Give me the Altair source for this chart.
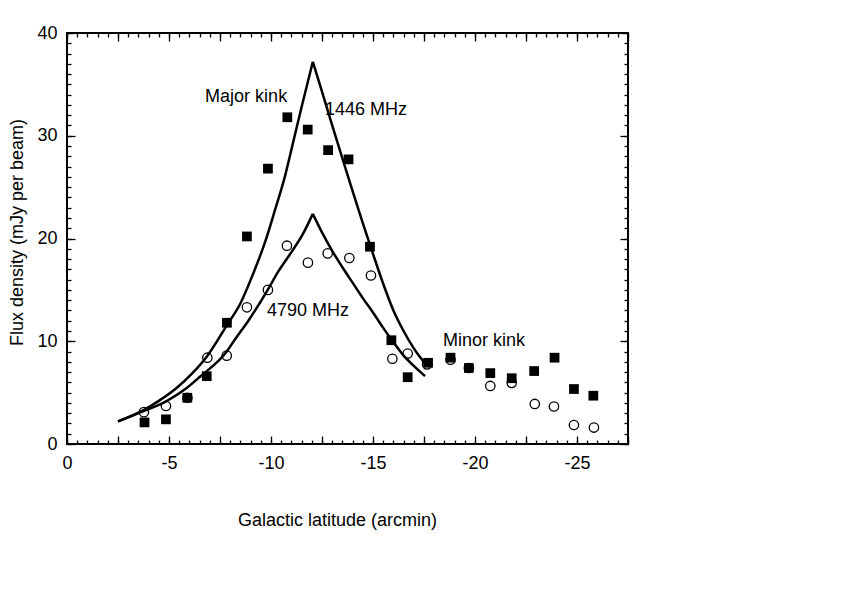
import altair as alt
import pandas as pd

# ---- data ----
sq_x = [-3.8, -4.85, -5.9, -6.85, -7.84, -8.82, -9.85, -10.8, -11.8, -12.8, -13.8, -14.85,
        -15.9, -16.7, -17.7, -18.8, -19.7, -20.75, -21.8, -22.9, -23.9, -24.85, -25.8]
sq_y = [2.1, 2.4, 4.5, 6.6, 11.8, 20.2, 26.8, 31.8, 30.6, 28.6, 27.7, 19.2,
        10.1, 6.5, 7.9, 8.4, 7.4, 6.9, 6.4, 7.1, 8.4, 5.35, 4.7]

ci_x = [-3.77, -4.85, -5.9, -6.88, -7.83, -8.82, -9.85, -10.78, -11.81, -12.78, -13.84, -14.9,
        -15.95, -16.7, -17.65, -18.8, -19.7, -20.75, -21.8, -22.93, -23.87, -24.85, -25.83]
ci_y = [3.1, 3.7, 4.5, 8.4, 8.6, 13.3, 15.0, 19.3, 17.65, 18.55, 18.1, 16.4,
        8.3, 8.8, 7.75, 8.2, 7.4, 5.65, 5.95, 3.9, 3.65, 1.85, 1.6]

# 1446 MHz model curve: rising branch and falling branch (peak shared)
up_l_x = [-2.5, -3.75, -4.5, -5.4, -6.1, -6.85, -7.85, -8.48, -9.13, -9.7, -10.2, -10.69,
          -11.09, -11.5, -12.05]
up_l_y = [2.2, 3.3, 4.2, 5.5, 6.8, 8.5, 11.6, 13.6, 16.6, 19.6, 22.8, 26.1,
          29.4, 32.8, 37.2]
up_r_x = [-12.05, -12.5, -13.0, -13.5, -14.0, -14.5, -15.0, -15.5, -16.0, -16.5, -17.0, -17.65]
up_r_y = [37.2, 34.3, 31.0, 27.8, 24.6, 21.5, 18.5, 15.6, 13.0, 11.0, 9.3, 7.6]

# 4790 MHz model curve
lo_l_x = [-2.5, -3.75, -4.9, -5.9, -6.52, -7.83, -8.24, -8.89, -9.84, -10.36, -11.01, -11.58,
          -12.05]
lo_l_y = [2.2, 3.2, 4.2, 5.5, 6.55, 9.0, 10.2, 12.0, 15.0, 16.8, 18.7, 20.5, 22.4]
lo_r_x = [-12.05, -12.5, -13.0, -13.5, -14.0, -14.5, -15.0, -15.5, -16.0, -16.5, -17.0, -17.55]
lo_r_y = [22.4, 20.6, 18.8, 17.2, 15.7, 14.2, 12.8, 11.3, 9.9, 8.6, 7.6, 6.6]

lab_text = ["Major kink", "1446 MHz", "4790 MHz", "Minor kink"]
lab_x = [-6.77, -12.65, -9.8, -18.43]
lab_y = [33.8, 32.5, 12.9, 10.0]

x_labels = [0, -5, -10, -15, -20, -25]
y_labels = [0, 10, 20, 30, 40]

# ---- frames ----
def branches(lx, ly, rx, ry):
    rows = [{"x": a, "y": b, "br": "L", "i": k} for k, (a, b) in enumerate(zip(lx, ly))]
    rows += [{"x": a, "y": b, "br": "R", "i": k} for k, (a, b) in enumerate(zip(rx, ry))]
    return pd.DataFrame(rows)

sq = pd.DataFrame({"x": sq_x, "y": sq_y})
ci = pd.DataFrame({"x": ci_x, "y": ci_y})
up = branches(up_l_x, up_l_y, up_r_x, up_r_y)
lo = branches(lo_l_x, lo_l_y, lo_r_x, lo_r_y)
lab = pd.DataFrame({"t": lab_text, "x": lab_x, "y": lab_y})

W, H = 561, 411
FONT = "Liberation Sans"
xs = alt.Scale(domain=[0, -27.5], nice=False, zero=False)
ys = alt.Scale(domain=[0, 40], nice=False, zero=False)

x_minor = [-0.5 * k for k in range(0, 56)]
x_major = [-2.5 * k for k in range(0, 12)]
y_minor = list(range(0, 41))
y_major = y_labels

common = dict(grid=False, domain=False, tickColor="black", tickWidth=1.3)

def tick_axis(orient, values, size, offset):
    return alt.Axis(orient=orient, values=values, tickSize=size, offset=offset,
                    labels=False, title=None, **common)

x_label_axis = alt.Axis(orient="bottom", values=x_labels, ticks=False, labelPadding=10,
                        labelExpr="'' + datum.value", labelFlush=False,
                        labelFont=FONT, labelFontSize=18, labelColor="black",
                        title="Galactic latitude (arcmin)", titleFont=FONT, titleFontSize=18,
                        titleFontWeight="normal", titleColor="black",
                        titleX=270, titleY=76, titleAlign="center", titleBaseline="middle",
                        **common)
y_label_axis = alt.Axis(orient="left", values=y_labels, ticks=False, labelPadding=10,
                        labelFlush=False,
                        labelFont=FONT, labelFontSize=18, labelColor="black",
                        title="Flux density (mJy per beam)", titleFont=FONT, titleFontSize=18,
                        titleFontWeight="normal", titleColor="black", titleAngle=-90,
                        titleX=-50, titleY=199, titleAlign="center", titleBaseline="middle",
                        **common)

upper = alt.Chart(up).mark_line(color="black", strokeWidth=2.5, interpolate="monotone").encode(
    x=alt.X("x:Q", scale=xs, axis=x_label_axis),
    y=alt.Y("y:Q", scale=ys, axis=y_label_axis),
    detail="br:N",
    order="i:Q",
)
lower = alt.Chart(lo).mark_line(color="black", strokeWidth=2.5, interpolate="monotone").encode(
    x=alt.X("x:Q", scale=xs, axis=tick_axis("top", x_minor, 4, -H)),
    y=alt.Y("y:Q", scale=ys, axis=tick_axis("right", y_minor, 4, -W)),
    detail="br:N",
    order="i:Q",
)
squares = alt.Chart(sq).mark_point(shape="square", filled=True, color="black", size=95, opacity=1).encode(
    x=alt.X("x:Q", scale=xs, axis=tick_axis("top", x_major, 8, -H)),
    y=alt.Y("y:Q", scale=ys, axis=tick_axis("right", y_major, 8, -W)),
)
circles = alt.Chart(ci).mark_point(shape="circle", filled=False, color="black", size=88,
                                   strokeWidth=1.3, opacity=1).encode(
    x=alt.X("x:Q", scale=xs, axis=tick_axis("bottom", x_minor, 4, -H)),
    y=alt.Y("y:Q", scale=ys, axis=tick_axis("left", y_minor, 4, -W)),
)
texts = alt.Chart(lab).mark_text(font=FONT, fontSize=18, align="left", baseline="middle",
                                 color="black").encode(
    x=alt.X("x:Q", scale=xs, axis=tick_axis("bottom", x_major, 8, -H)),
    y=alt.Y("y:Q", scale=ys, axis=tick_axis("left", y_major, 8, -W)),
    text="t:N",
)

chart = alt.layer(upper, lower, squares, circles, texts).resolve_axis(
    x="independent", y="independent"
).properties(
    width=W, height=H,
    autosize=alt.AutoSizeParams(type="none"),
    padding={"left": 59, "top": 25, "right": 180, "bottom": 120},
).configure_view(stroke="black", strokeWidth=2)

chart.save("out.html", embed_options={"renderer": "svg", "actions": False})
